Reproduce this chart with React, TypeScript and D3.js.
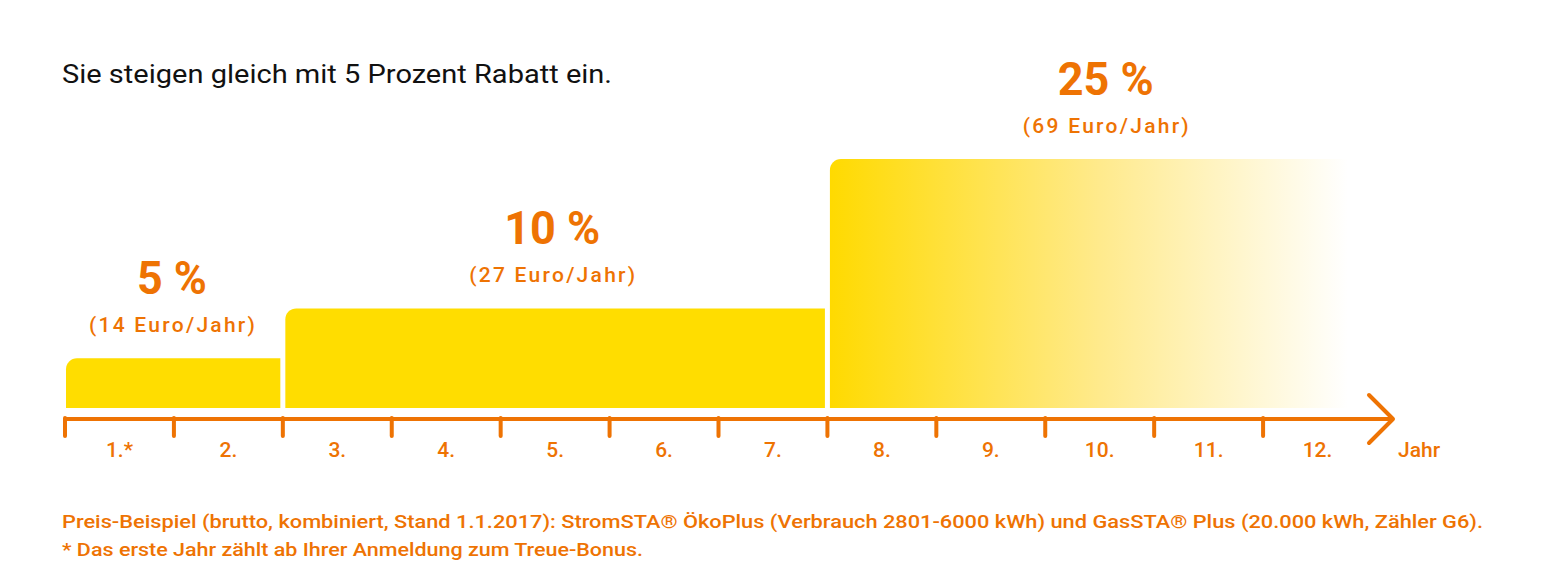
import React from "react";
import * as d3 from "d3";

const yearLabels = ["1.*", "2.", "3.", "4.", "5.", "6.", "7.", "8.", "9.", "10.", "11.", "12."];
const tierStart = [0, 2, 7];
const tierEnd = [2, 7, 12];
const tierPercent = [5, 10, 25];
const tierEuro = [14, 27, 69];
const tierPercentLabel = ["5 %", "10 %", "25 %"];
const tierEuroLabel = ["(14 Euro/Jahr)", "(27 Euro/Jahr)", "(69 Euro/Jahr)"];
const title = "Sie steigen gleich mit 5 Prozent Rabatt ein.";
const footnote1 = "Preis-Beispiel (brutto, kombiniert, Stand 1.1.2017): StromSTA\u00AE \u00D6koPlus (Verbrauch 2801-6000 kWh) und GasSTA\u00AE Plus (20.000 kWh, Z\u00E4hler G6).";
const footnote2 = "* Das erste Jahr z\u00E4hlt ab Ihrer Anmeldung zum Treue-Bonus.";
const axisUnit = "Jahr";

const W = 1541;
const H = 588;
const ORANGE = "#EE7303";
const YELLOW = "#FFDD00";
const FONT = "Roboto, 'DejaVu Sans', sans-serif";

export default function App() {
  const x = d3.scaleLinear().domain([0, 12]).range([65, 1372]);
  const y = d3.scaleLinear().domain([0, 25]).range([408, 159]);
  const axisY = 419;
  const r = 11;

  const barPath = (x0: number, x1: number, y0: number, y1: number) => {
    const p = d3.path();
    p.moveTo(x0, y1);
    p.lineTo(x0, y0 + r);
    p.arcTo(x0, y0, x0 + r, y0, r);
    p.lineTo(x1, y0);
    p.lineTo(x1, y1);
    p.closePath();
    return p.toString();
  };

  const tickXs = d3.range(0, 12).map((i) => x(i));
  const labelShift = [-2, -3, 6];

  return (
    <svg width={W} height={H} style={{ position: "absolute", left: 0, top: 0, background: "#fff" }} fontFamily={FONT}>
      <defs>
        <linearGradient id="fade" x1="0" x2="1" y1="0" y2="0">
          <stop offset="0%" stopColor="#FFDA00" />
          <stop offset="50%" stopColor="#FFEA8C" />
          <stop offset="96%" stopColor="#FFFFFF" />
          <stop offset="100%" stopColor="#FFFFFF" />
        </linearGradient>
      </defs>

      <text x={62} y={83} fontSize={25} fill="#111" textLength={550} lengthAdjust="spacingAndGlyphs">
        {title}
      </text>

      {tierPercent.map((v, i) => {
        const x0 = x(tierStart[i]) + (i === 0 ? 1 : 2.5);
        const x1 = x(tierEnd[i]) - 2.5;
        const top = y(v);
        const cx = (x(tierStart[i]) + x(tierEnd[i])) / 2 + labelShift[i];
        return (
          <g key={i}>
            <path d={barPath(x0, x1, top, y(0))} fill={i === 2 ? "url(#fade)" : YELLOW} />
            <text x={cx} y={top - 64} textAnchor="middle" fontSize={46} fontWeight={700} fill={ORANGE}
              textLength={tierPercentLabel[i].length === 3 ? 70 : 96} lengthAdjust="spacingAndGlyphs">
              {tierPercentLabel[i]}
            </text>
            <text x={cx} y={top - 26} textAnchor="middle" fontSize={21} fontWeight={500} fill={ORANGE}
              textLength={166} lengthAdjust="spacing">
              {tierEuroLabel[i]}
            </text>
          </g>
        );
      })}

      <line x1={x(0)} x2={1392} y1={axisY} y2={axisY} stroke={ORANGE} strokeWidth={4} />
      <polyline points={`1369,395 1393,${axisY} 1369,443`} fill="none" stroke={ORANGE} strokeWidth={4}
        strokeLinecap="round" strokeLinejoin="round" />
      {tickXs.map((tx, i) => (
        <line key={i} x1={tx} x2={tx} y1={axisY - 1} y2={436} stroke={ORANGE} strokeWidth={4} strokeLinecap="round" />
      ))}
      {yearLabels.map((lab, i) => (
        <text key={lab} x={(x(i) + x(i + 1)) / 2} y={457} textAnchor="middle" fontSize={21} fontWeight={500} fill={ORANGE}>
          {lab}
        </text>
      ))}
      <text x={1398} y={457} fontSize={21} fontWeight={500} fill={ORANGE}>{axisUnit}</text>

      <text x={62} y={528} fontSize={18} fontWeight={500} fill={ORANGE} textLength={1421} lengthAdjust="spacingAndGlyphs">
        {footnote1}
      </text>
      <text x={62} y={556} fontSize={18} fontWeight={500} fill={ORANGE} textLength={581} lengthAdjust="spacingAndGlyphs">
        {footnote2}
      </text>
    </svg>
  );
}
